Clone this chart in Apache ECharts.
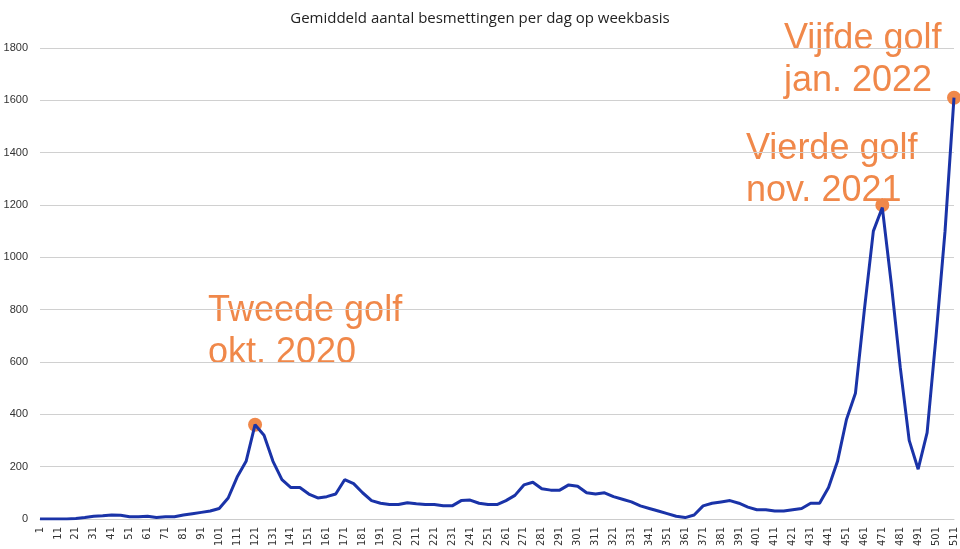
<!DOCTYPE html>
<html>
<head>
<meta charset="utf-8">
<script src="https://cdn.jsdelivr.net/npm/echarts@6/dist/echarts.min.js"></script>
<style>html,body{margin:0;padding:0;background:#fff}#chart{width:960px;height:549px}</style>
</head>
<body>
<div id="chart"></div>
<script>
var days = [];
for (var d = 1; d <= 511; d += 5) days.push(String(d));

var besmettingen = [0,0,0,0,2,5,10,12,15,14,8,8,10,5,8,8,15,20,25,30,
  40,80,160,220,360,320,220,150,120,120,95,80,85,95,150,135,100,70,60,55,
  55,62,58,55,55,50,50,70,72,60,55,55,70,90,130,140,115,110,110,130,
  125,100,95,100,85,75,65,50,40,30,20,10,5,15,50,60,65,70,60,45,
  35,35,30,30,35,40,60,60,120,220,380,480,800,1100,1190,900,580,300,190,330,
  700,1100,1610];

var golfDagen = ['121', '471', '511'];
var golfWaarden = [360, 1200, 1610];

var chart = echarts.init(document.getElementById('chart'));
var oranje = '#F0884A';
chart.setOption({
  animation: false,
  title: {
    text: 'Gemiddeld aantal besmettingen per dag op weekbasis',
    left: 'center', top: 6,
    textStyle: { fontFamily: 'Open Sans', fontWeight: 'normal', fontSize: 15, color: '#222' }
  },
  grid: { left: 40, right: 6, top: 48, bottom: 30 },
  xAxis: {
    type: 'category',
    data: days,
    boundaryGap: false,
    axisLine: { lineStyle: { color: '#ccc' } },
    axisTick: { show: false },
    axisLabel: { interval: 1, rotate: 90, fontSize: 10, color: '#333', fontFamily: 'DejaVu Sans' }
  },
  yAxis: {
    type: 'value', min: 0, max: 1800, interval: 200,
    axisLabel: { fontSize: 11, color: '#333', margin: 12, formatter: function (v) { return String(v); } },
    splitLine: { lineStyle: { color: '#d0d0d0' } }
  },
  series: [{
    type: 'line',
    data: besmettingen,
    showSymbol: false,
    lineStyle: { color: '#1a33a8', width: 3 }
  }, {
    type: 'scatter',
    data: golfDagen.map(function (d, i) { return [d, golfWaarden[i]]; }),
    symbolSize: 14,
    itemStyle: { color: oranje, opacity: 1 }
  }],
  graphic: [
    { type: 'text', left: 208, top: 290, style: { text: 'Tweede golf\nokt. 2020', fill: oranje, fontSize: 36, lineHeight: 42, fontFamily: 'Liberation Sans' } },
    { type: 'text', left: 746, top: 128, style: { text: 'Vierde golf\nnov. 2021', fill: oranje, fontSize: 36, lineHeight: 42, fontFamily: 'Liberation Sans' } },
    { type: 'text', left: 784, top: 18, style: { text: 'Vijfde golf\njan. 2022', fill: oranje, fontSize: 36, lineHeight: 42, fontFamily: 'Liberation Sans' } }
  ]
});
</script>
</body>
</html>
